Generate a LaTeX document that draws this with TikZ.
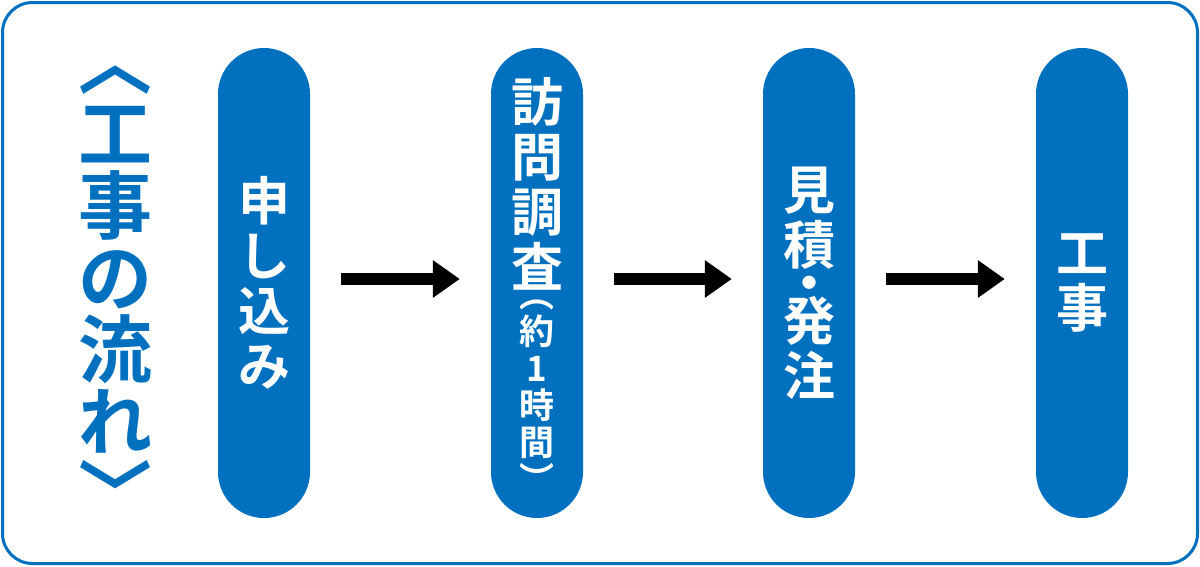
\documentclass[tikz,border=0pt]{standalone}
\usepackage{fontspec}
\newfontfamily\jpfont{Noto Sans CJK JP}[BoldFont={Noto Sans CJK JP Bold}]
\usepackage{xcolor}
\usetikzlibrary{positioning}
\usetikzlibrary{arrows.meta}
\definecolor{flowblue}{HTML}{0070BF}

\tikzset{
  pill/.style={minimum width=92pt, minimum height=470pt, rounded corners=46pt, fill=flowblue, inner sep=0pt},
  pilltext/.style={text=white, align=center, inner sep=0pt, font=\jpfont\bfseries\fontsize{52}{55}\selectfont},
  smalltext/.style={pilltext, font=\jpfont\bfseries\fontsize{35}{37}\selectfont},
  flowarrow/.style={line width=12pt, -{Triangle[length=27pt,width=36pt]}, shorten <=31pt, shorten >=31pt},
}

\begin{document}
\begin{tikzpicture}[x=1pt, y=-1pt]
          \useasboundingbox (0,0) rectangle (1200,566);
          \draw[flowblue, line width=3pt, rounded corners=30pt] (2.5,2.5) rectangle (1197.5,563.5);
          % title
          \node[text=flowblue, align=center, inner sep=0pt, font=\jpfont\bfseries\fontsize{74}{72}\selectfont] (title) at (115,294) {︿\\工\\事\\の\\流\\れ\\﹀};
          % steps
          \node[pill] (apply) at (264,283) {};
          \node[pill] (visit) at (537,283) {};
          \node[pill] (quote) at (809,283) {};
          \node[pill] (work) at (1082,283) {};
          \node[pilltext] (applytext) at (apply) {申\\し\\込\\み};
          \node[pilltext] (visittext) at (537,184) {訪\\問\\調\\査};
          \node[smalltext] (visittime) at (537,396) {︵\\約\\1\\時\\間\\︶};
          \node[pilltext] (quotetext) at (quote) {見\\積\\[-17pt]・\\[-17pt]発\\注};
          \node[pilltext] (worktext) at (work) {工\\事};
          % arrows
          \draw[flowarrow] ([yshift=4pt]apply.east) -- ([yshift=4pt]visit.west);
          \draw[flowarrow] ([yshift=4pt]visit.east) -- ([yshift=4pt]quote.west);
          \draw[flowarrow] ([yshift=4pt]quote.east) -- ([yshift=4pt]work.west);
        \end{tikzpicture}
\end{document}
